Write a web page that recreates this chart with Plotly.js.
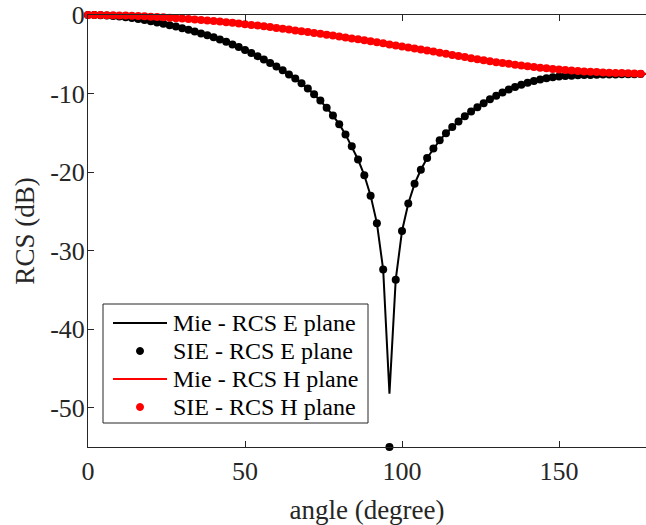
<!DOCTYPE html>
<html>
<head>
<meta charset="utf-8">
<script src="https://cdn.plot.ly/plotly-3.0.1.min.js"></script>
<style>html,body{margin:0;padding:0;background:#fff;}#chart{width:646px;height:525px;}</style>
</head>
<body>
<div id="chart"></div>
<script>
// angle in degrees
var angle = [0,2,4,6,8,10,12,14,16,18,20,22,24,26,28,30,32,34,36,38,40,42,44,46,48,50,52,54,56,58,60,62,64,66,68,70,72,74,76,78,80,82,84,86,88,90,92,94,96,98,100,102,104,106,108,110,112,114,116,118,120,122,124,126,128,130,132,134,136,138,140,142,144,146,148,150,152,154,156,158,160,162,164,166,168,170,172,174,176,178,180];

// Mie - RCS E plane (dB)
var mieE = [0.00,-0.01,-0.03,-0.07,-0.12,-0.19,-0.28,-0.38,-0.50,-0.63,-0.78,-0.94,-1.11,-1.29,-1.48,-1.68,-1.89,-2.11,-2.35,-2.58,-2.84,-3.12,-3.42,-3.74,-4.08,-4.45,-4.84,-5.24,-5.66,-6.10,-6.56,-7.05,-7.56,-8.10,-8.70,-9.35,-10.10,-10.90,-11.80,-12.80,-13.90,-15.20,-16.70,-18.40,-20.40,-23.00,-26.50,-32.40,-48.20,-33.70,-27.50,-24.00,-21.50,-19.70,-18.20,-17.00,-15.95,-15.05,-14.25,-13.55,-12.90,-12.30,-11.75,-11.22,-10.73,-10.28,-9.87,-9.50,-9.17,-8.88,-8.62,-8.40,-8.21,-8.05,-7.93,-7.84,-7.77,-7.72,-7.68,-7.65,-7.63,-7.61,-7.59,-7.57,-7.56,-7.55,-7.54,-7.53,-7.52,-7.51,-7.50];

// SIE - RCS E plane (dB)
var sieE = [0.00,-0.01,-0.03,-0.07,-0.12,-0.19,-0.28,-0.38,-0.50,-0.63,-0.78,-0.94,-1.11,-1.29,-1.48,-1.68,-1.89,-2.11,-2.35,-2.58,-2.84,-3.12,-3.42,-3.74,-4.08,-4.45,-4.84,-5.24,-5.66,-6.10,-6.56,-7.05,-7.56,-8.10,-8.70,-9.35,-10.10,-10.90,-11.80,-12.80,-13.90,-15.20,-16.70,-18.40,-20.40,-23.00,-26.50,-32.40,-55.00,-33.70,-27.50,-24.00,-21.50,-19.70,-18.20,-17.00,-15.95,-15.05,-14.25,-13.55,-12.90,-12.30,-11.75,-11.22,-10.73,-10.28,-9.87,-9.50,-9.17,-8.88,-8.62,-8.40,-8.21,-8.05,-7.93,-7.84,-7.77,-7.72,-7.68,-7.65,-7.63,-7.61,-7.59,-7.57,-7.56,-7.55,-7.54,-7.53,-7.52,-7.51,-7.50];

// Mie - RCS H plane (dB)
var mieH = [0.00,0.00,-0.01,-0.02,-0.03,-0.05,-0.07,-0.10,-0.13,-0.17,-0.21,-0.25,-0.30,-0.35,-0.40,-0.45,-0.51,-0.57,-0.63,-0.70,-0.77,-0.84,-0.92,-1.00,-1.08,-1.17,-1.26,-1.35,-1.44,-1.54,-1.64,-1.74,-1.85,-1.96,-2.07,-2.18,-2.29,-2.40,-2.51,-2.62,-2.74,-2.86,-2.98,-3.10,-3.22,-3.35,-3.48,-3.61,-3.74,-3.87,-4.00,-4.13,-4.26,-4.39,-4.52,-4.66,-4.80,-4.94,-5.08,-5.22,-5.36,-5.50,-5.63,-5.76,-5.88,-6.00,-6.11,-6.22,-6.33,-6.43,-6.53,-6.62,-6.71,-6.79,-6.87,-6.94,-7.01,-7.07,-7.13,-7.18,-7.23,-7.27,-7.31,-7.34,-7.37,-7.40,-7.43,-7.45,-7.47,-7.49,-7.50];

// SIE - RCS H plane (dB)
var sieH = [0.00,0.00,-0.01,-0.02,-0.03,-0.05,-0.07,-0.10,-0.13,-0.17,-0.21,-0.25,-0.30,-0.35,-0.40,-0.45,-0.51,-0.57,-0.63,-0.70,-0.77,-0.84,-0.92,-1.00,-1.08,-1.17,-1.26,-1.35,-1.44,-1.54,-1.64,-1.74,-1.85,-1.96,-2.07,-2.18,-2.29,-2.40,-2.51,-2.62,-2.74,-2.86,-2.98,-3.10,-3.22,-3.35,-3.48,-3.61,-3.74,-3.87,-4.00,-4.13,-4.26,-4.39,-4.52,-4.66,-4.80,-4.94,-5.08,-5.22,-5.36,-5.50,-5.63,-5.76,-5.88,-6.00,-6.11,-6.22,-6.33,-6.43,-6.53,-6.62,-6.71,-6.79,-6.87,-6.94,-7.01,-7.07,-7.13,-7.18,-7.23,-7.27,-7.31,-7.34,-7.37,-7.40,-7.43,-7.45,-7.47,-7.49,-7.50];

var seriesNames = ['Mie - RCS E plane','SIE - RCS E plane','Mie - RCS H plane','SIE - RCS H plane'];
var seriesColors = ['#000000','#000000','#ff0000','#ff0000'];
var seriesIsLine = [true,false,true,false];
var xTicks = [0,50,100,150];
var yTicks = [0,-10,-20,-30,-40,-50];

var FONT = 'Liberation Serif, Times New Roman, serif';
var AX = '#262626';

var W = 646, H = 525;
var M = {l: 88, r: 0, t: 15, b: 78};
var PW = W - M.l - M.r, PH = H - M.t - M.b;
function px(x) { return (x - M.l) / PW; }
function py(y) { return (H - M.b - y) / PH; }

var traces = [
  {x: angle, y: mieE, name: seriesNames[0], type: 'scatter', mode: 'lines', line: {color: seriesColors[0], width: 2}},
  {x: angle, y: sieE, name: seriesNames[1], type: 'scatter', mode: 'markers', cliponaxis: false, marker: {color: seriesColors[1], size: 8}},
  {x: angle, y: mieH, name: seriesNames[2], type: 'scatter', mode: 'lines', line: {color: seriesColors[2], width: 2}},
  {x: angle, y: sieH, name: seriesNames[3], type: 'scatter', mode: 'markers', cliponaxis: false, marker: {color: seriesColors[3], size: 8}}
];

// manual legend (MATLAB-like compact layout)
var box = {x0: 103, x1: 368, y0: 304, y1: 423};
var rowY = [323, 351, 379, 407];
var shapes = [{type: 'rect', xref: 'paper', yref: 'paper', x0: px(box.x0), x1: px(box.x1), y0: py(box.y1), y1: py(box.y0),
  line: {color: AX, width: 1}, fillcolor: '#ffffff', layer: 'above'}];
var annotations = [];
for (var i = 0; i < seriesNames.length; i++) {
  if (seriesIsLine[i]) {
    shapes.push({type: 'line', xref: 'paper', yref: 'paper', x0: px(113), x1: px(167), y0: py(rowY[i]), y1: py(rowY[i]),
      line: {color: seriesColors[i], width: 2}, layer: 'above'});
  } else {
    shapes.push({type: 'circle', xref: 'paper', yref: 'paper', x0: px(136.5), x1: px(143.5), y0: py(rowY[i] + 3.5), y1: py(rowY[i] - 3.5),
      line: {color: seriesColors[i], width: 1}, fillcolor: seriesColors[i], layer: 'above'});
  }
  annotations.push({xref: 'paper', yref: 'paper', x: px(171), y: py(rowY[i]), xanchor: 'left', yanchor: 'middle',
    text: seriesNames[i], showarrow: false, font: {family: FONT, size: 24, color: '#000000'}});
}

var layout = {
  width: W, height: H,
  margin: M,
  paper_bgcolor: '#ffffff', plot_bgcolor: '#ffffff',
  font: {family: FONT, color: AX, size: 26},
  showlegend: false,
  xaxis: {
    range: [0, 177.7], tickvals: xTicks, ticktext: xTicks.map(String),
    ticks: 'inside', ticklen: 6, tickwidth: 1, tickcolor: AX,
    showline: true, linecolor: AX, linewidth: 1, mirror: 'ticks',
    showgrid: false, zeroline: false, ticklabelstandoff: 1,
    tickfont: {family: FONT, size: 26, color: AX},
    title: {text: 'angle (degree)', font: {family: FONT, size: 27, color: AX}, standoff: 15}
  },
  yaxis: {
    range: [-55, 0], tickvals: yTicks, ticktext: yTicks.map(String),
    ticks: 'inside', ticklen: 6, tickwidth: 1, tickcolor: AX,
    showline: true, linecolor: AX, linewidth: 1, mirror: false,
    showgrid: false, zeroline: false, ticklabelstandoff: -3,
    tickfont: {family: FONT, size: 26, color: AX},
    title: {text: 'RCS (dB)', font: {family: FONT, size: 27, color: AX}, standoff: 7}
  },
  shapes: shapes,
  annotations: annotations
};

Plotly.newPlot('chart', traces, layout, {staticPlot: true, displayModeBar: false});
</script>
</body>
</html>
